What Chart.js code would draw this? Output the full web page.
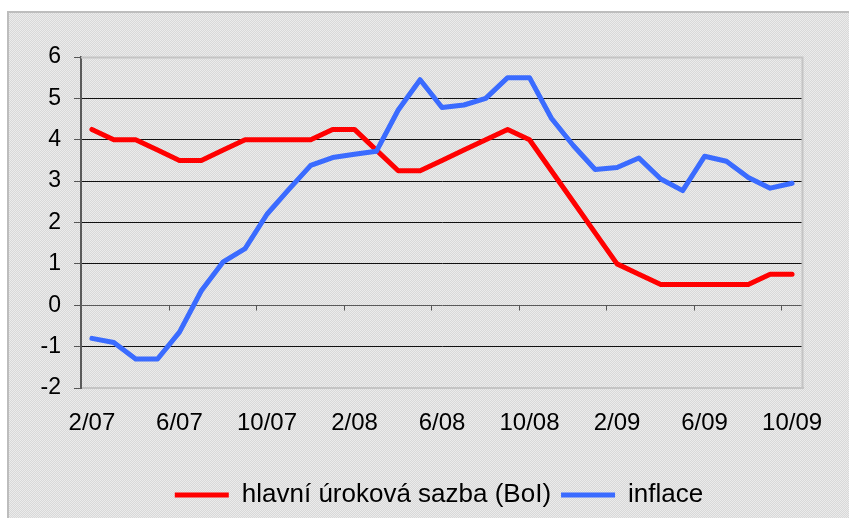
<!DOCTYPE html>
<html><head><meta charset="utf-8">
<script src="https://cdn.jsdelivr.net/npm/chart.js@4"></script>
<style>
html,body{margin:0;padding:0;background:#fff;width:849px;height:518px;overflow:hidden}
#box{position:absolute;left:7px;top:11px;width:850px;height:520px;border-left:2px solid #bdbdbd;border-top:2px solid #bdbdbd;
background:repeating-conic-gradient(#d8d8d8 0 25%, #ebebeb 0 50%) 0 0/2px 2px}
#c{position:absolute;left:0;top:0}
</style></head><body>
<div id="box"><canvas id="c" width="840" height="505"></canvas></div>
<script>
const categories = ["2/07","3/07","4/07","5/07","6/07","7/07","8/07","9/07","10/07","11/07","12/07",
"1/08","2/08","3/08","4/08","5/08","6/08","7/08","8/08","9/08","10/08","11/08","12/08",
"1/09","2/09","3/09","4/09","5/09","6/09","7/09","8/09","9/09","10/09"];
const rateBoI = [4.25,4.0,4.0,3.75,3.5,3.5,3.75,4.0,4.0,4.0,4.0,4.25,4.25,3.75,3.25,3.25,3.5,3.75,4.0,4.25,4.0,3.25,2.5,1.75,1.0,0.75,0.5,0.5,0.5,0.5,0.5,0.75,0.75];
const inflation = [-0.8,-0.9,-1.3,-1.3,-0.65,0.35,1.05,1.37,2.2,2.8,3.38,3.57,3.65,3.72,4.72,5.45,4.78,4.84,5.0,5.5,5.5,4.52,3.86,3.28,3.33,3.56,3.05,2.77,3.6,3.48,3.09,2.83,2.95];
const seriesNames = ["hlavní úroková sazba (BoI)","inflace"];
const yTicks = [-2,-1,0,1,2,3,4,5,6];

const FAM = "'Liberation Sans', Arial, sans-serif";

const extras = {
  id:'extras',
  beforeDatasetsDraw(chart){
    const {ctx, chartArea:a, scales:{x,y}} = chart;
    ctx.save();
    ctx.strokeStyle='#c4c4c4'; ctx.lineWidth=2;
    ctx.beginPath(); ctx.moveTo(a.left,a.top+0.5); ctx.lineTo(a.right-0.5,a.top+0.5); ctx.lineTo(a.right-0.5,a.bottom); ctx.stroke();
    const y0 = Math.round(y.getPixelForValue(0))+0.5;
    const w = x.getPixelForValue(1)-x.getPixelForValue(0);
    ctx.strokeStyle='#555'; ctx.lineWidth=1;
    ctx.beginPath();
    for(let i=4;i<categories.length;i+=4){
      const xx=Math.round(x.getPixelForValue(i)-w/2)+0.5;
      ctx.moveTo(xx,y0); ctx.lineTo(xx,y0+5);
    }
    ctx.stroke();
    ctx.restore();
  }
};

new Chart(document.getElementById('c'),{
  type:'line',
  data:{labels:categories,datasets:[
    {label:seriesNames[0],data:rateBoI,borderColor:'#ff0000',backgroundColor:'#ff0000',borderWidth:5,pointRadius:0,tension:0,borderCapStyle:'round',borderJoinStyle:'round',order:1},
    {label:seriesNames[1],data:inflation,borderColor:'#3a6bff',backgroundColor:'#3a6bff',borderWidth:5,pointRadius:0,tension:0,borderCapStyle:'round',borderJoinStyle:'round',order:0}
  ]},
  options:{
    responsive:false,animation:false,
    layout:{padding:{top:44,right:0,left:20,bottom:0}},
    plugins:{
      tooltip:{enabled:false},
      legend:{position:'bottom',labels:{usePointStyle:true,pointStyle:'line',pointStyleWidth:54,boxWidth:54,padding:10,color:'#000',font:{family:FAM,size:26},
        sort:(a,b)=>a.datasetIndex-b.datasetIndex}}
    },
    scales:{
      x:{offset:true,
        afterFit(s){s.height=84;},
        grid:{display:false,drawTicks:false},
        border:{display:true,color:'#c4c4c4',width:2},
        ticks:{autoSkip:false,maxRotation:0,padding:21,color:'#000',font:{family:FAM,size:24},
          callback:(v,i)=>i%4===0?categories[i]:''}
      },
      y:{min:-2,max:6,
        afterFit(s){s.width=52;},
        afterBuildTicks(s){s.ticks=yTicks.map(v=>({value:v}));},
        grid:{color:c=>c.tick&&c.tick.value===0?'#5a5a5a':(c.tick&&(c.tick.value===-2||c.tick.value===6)?'rgba(0,0,0,0)':'#111'),
              lineWidth:1,tickLength:7,tickColor:'#555'},
        border:{display:true,color:'#5a5a5a',width:2},
        ticks:{padding:13,color:'#000',font:{family:FAM,size:23}}
      },
      yRight:{position:'right',display:true,
        afterFit(s){s.width=46;},
        grid:{display:false,drawTicks:false},
        border:{display:false},
        ticks:{display:false}
      }
    }
  },
  plugins:[extras]
});
</script>
</body></html>
